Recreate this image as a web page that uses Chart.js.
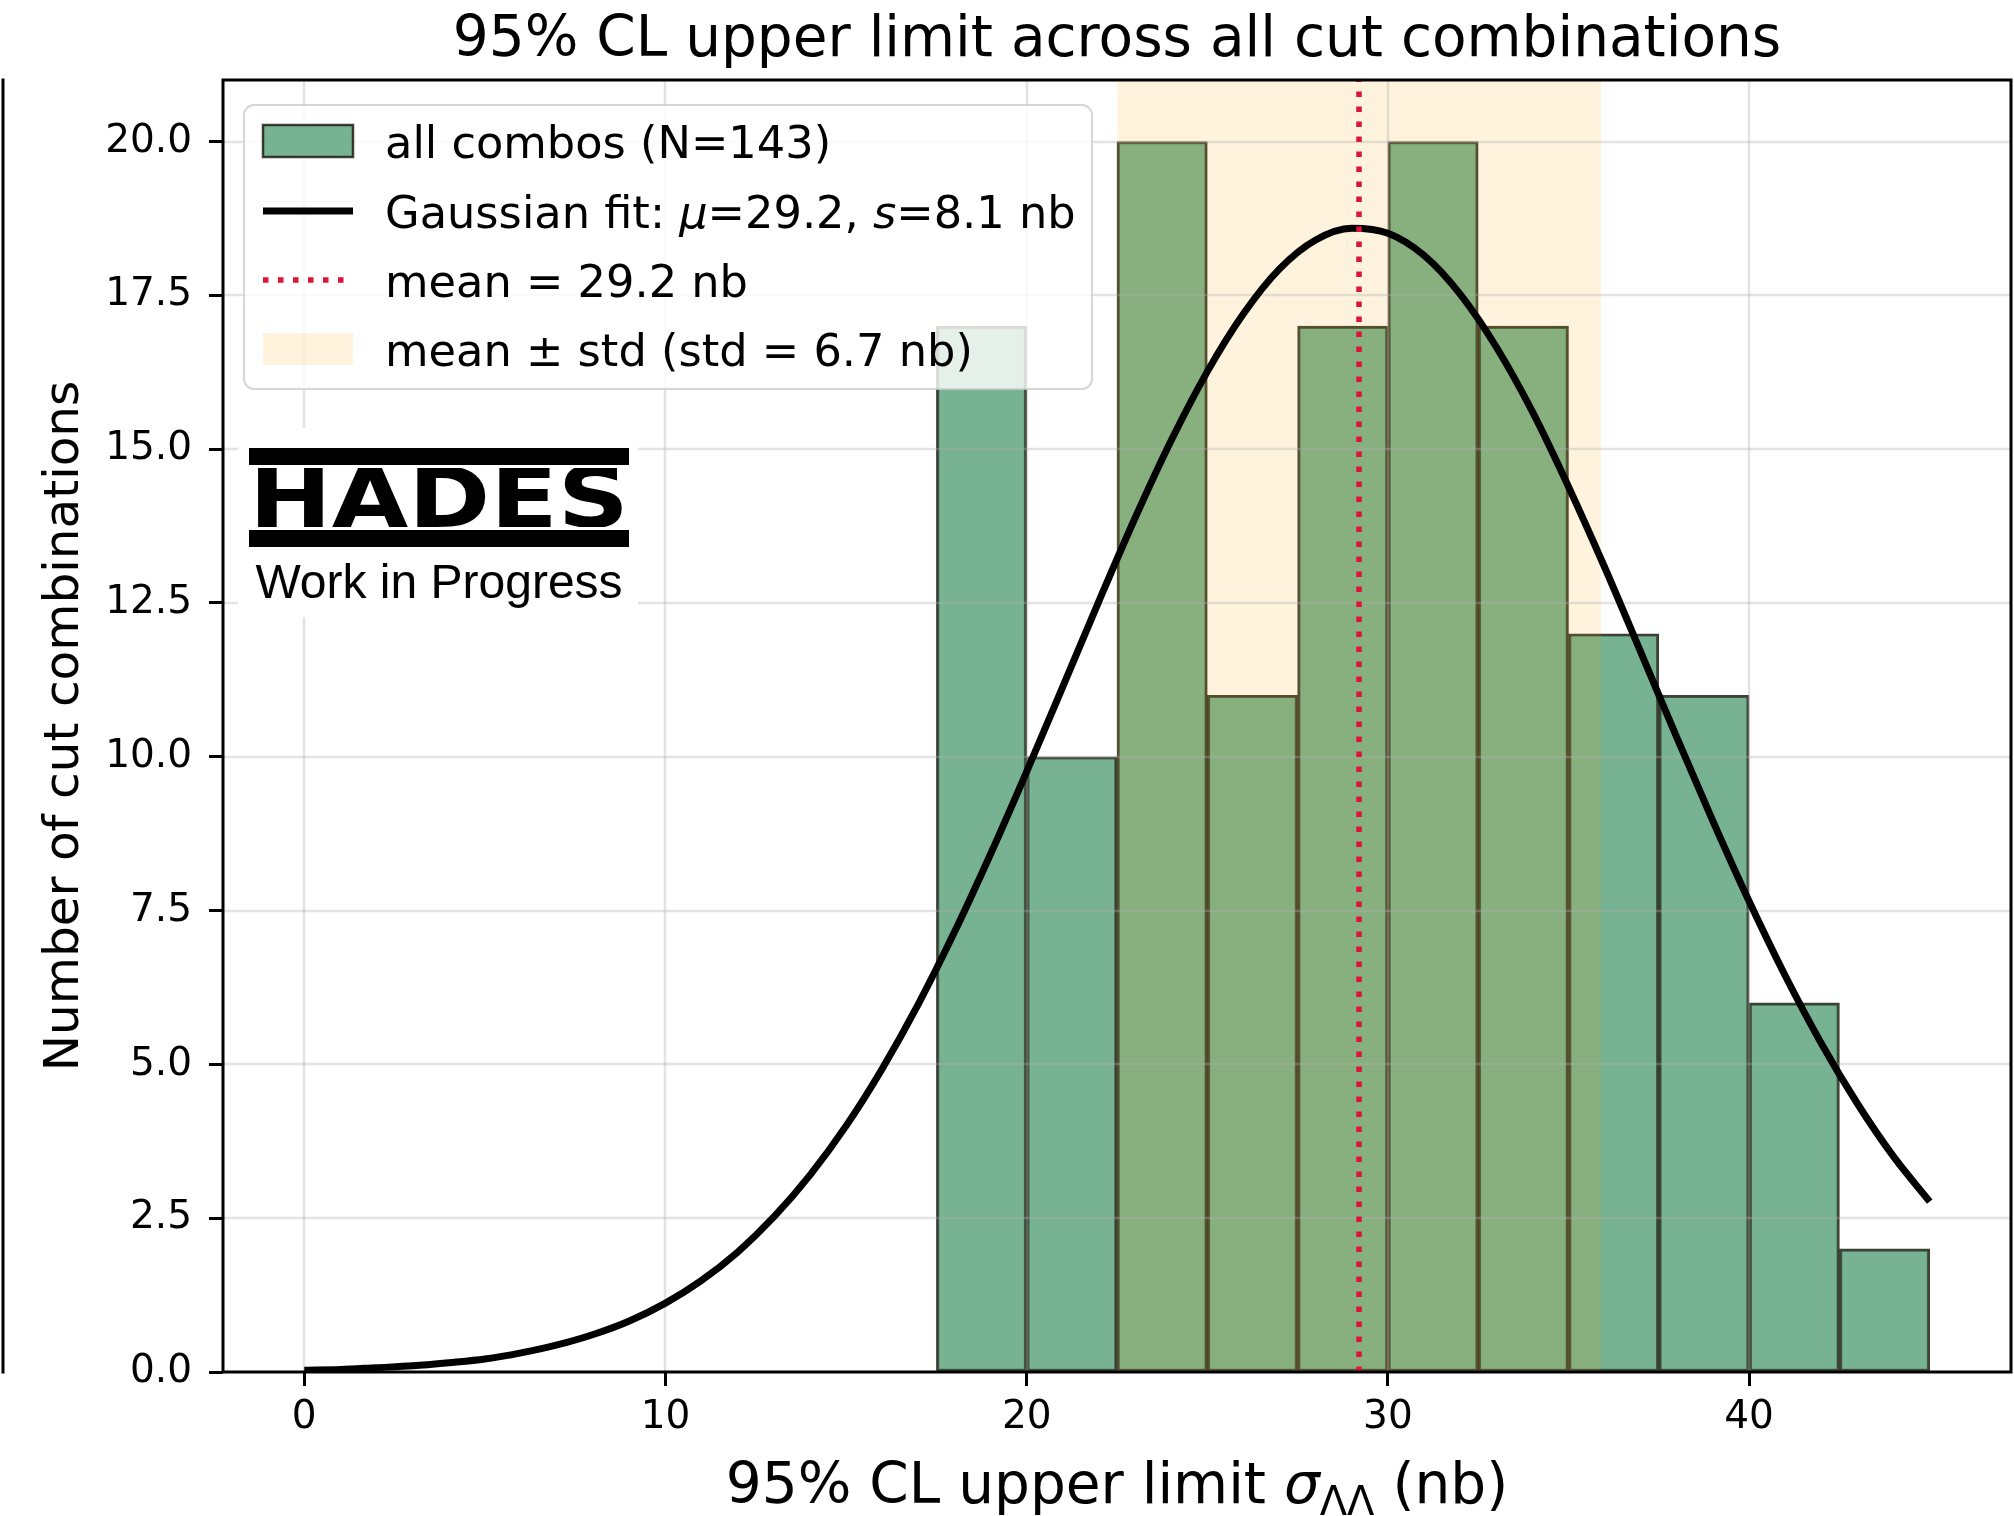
<!DOCTYPE html>
<html>
<head>
<meta charset="utf-8">
<script src="https://cdn.jsdelivr.net/npm/chart.js@4.4.1/dist/chart.umd.min.js"></script>
<style>
  html, body { margin: 0; padding: 0; background: #ffffff; }
  canvas { display: block; }
</style>
</head>
<body>
<canvas id="c" width="2014" height="1516" style="width:2014px;height:1516px"></canvas>
<script>
// ---- histogram of upper limits (bin edges in nb, counts per bin) ----
const binEdges  = [17.5, 20, 22.5, 25, 27.5, 30, 32.5, 35, 37.5, 40, 42.5, 45];
const binCounts = [17, 10, 20, 11, 17, 20, 17, 12, 11, 6, 2];

// ---- Gaussian fit curve, sampled every 1 nb ----
const fitX = [0, 1, 2, 3, 4, 5, 6, 7, 8, 9, 10, 11, 12, 13, 14, 15, 16, 17, 18, 19, 20, 21, 22,
              23, 24, 25, 26, 27, 28, 29, 30, 31, 32, 33, 34, 35, 36, 37, 38, 39, 40, 41, 42, 43, 44, 45];
const fitY = [0.03, 0.04, 0.07, 0.10, 0.15, 0.21, 0.31, 0.44, 0.61, 0.83, 1.12, 1.49, 1.95, 2.52,
              3.20, 4.00, 4.93, 5.98, 7.15, 8.42, 9.76, 11.14, 12.53, 13.88, 15.14, 16.26, 17.20,
              17.93, 18.40, 18.59, 18.51, 18.15, 17.52, 16.66, 15.61, 14.39, 13.08, 11.70, 10.31,
              8.95, 7.65, 6.44, 5.34, 4.36, 3.50, 2.77];

// ---- summary statistics ----
const meanValue = 29.2;
const stdValue  = 6.7;

// ---- axes ----
const xRange = [-2.25, 47.25];
const yRange = [0, 21];
const xTicks = [0, 10, 20, 30, 40];
const yTicks = [0, 2.5, 5, 7.5, 10, 12.5, 15, 17.5, 20];

// ---- texts ----
const titleText  = '95% CL upper limit across all cut combinations';
const yLabelText = 'Number of cut combinations';
const legendHist = 'all combos (N=143)';
const legendMean = 'mean = 29.2 nb';
const legendBand = 'mean \u00b1 std (std = 6.7 nb)';
const logoText   = 'HADES';
const wipText    = 'Work in Progress';

// ---- styles ----
const FONT = '"DejaVu Sans", "Noto Sans", sans-serif';
const barFill   = 'rgba(46,139,87,0.65)';
const barEdge   = 'rgba(30,30,20,0.85)';
const bandFill  = 'rgba(255,165,0,0.13)';
const meanColor = '#dc143c';
const gridColor = 'rgba(176,176,176,0.35)';

const histData = binCounts.map((c, i) => ({ x: (binEdges[i] + binEdges[i + 1]) / 2, y: c }));
const fitData  = fitX.map((x, i) => ({ x: x, y: fitY[i] }));
const meanData = [{ x: meanValue, y: yRange[0] }, { x: meanValue, y: yRange[1] }];

// band + grid drawn right after the bars, below the curves
const overlayPlugin = {
  id: 'overlay',
  beforeDraw(chart) {
    const ctx = chart.ctx;
    ctx.save();
    ctx.fillStyle = '#ffffff';
    ctx.fillRect(0, 0, chart.width, chart.height);
    ctx.restore();
  },
  afterDatasetDraw(chart, args) {
    if (args.index !== 0) return;
    const ctx = chart.ctx, a = chart.chartArea;
    const xs = chart.scales.x, ys = chart.scales.y;
    ctx.save();
    ctx.beginPath();
    ctx.rect(a.left, a.top, a.right - a.left, a.bottom - a.top);
    ctx.clip();
    // mean +- std band
    const x0 = xs.getPixelForValue(meanValue - stdValue);
    const x1 = xs.getPixelForValue(meanValue + stdValue);
    ctx.fillStyle = bandFill;
    ctx.fillRect(x0, a.top, x1 - x0, a.bottom - a.top);
    // grid
    ctx.strokeStyle = gridColor;
    ctx.lineWidth = 2.5;
    xTicks.forEach(v => {
      const p = Math.round(xs.getPixelForValue(v));
      ctx.beginPath(); ctx.moveTo(p, a.top); ctx.lineTo(p, a.bottom); ctx.stroke();
    });
    yTicks.forEach(v => {
      const p = Math.round(ys.getPixelForValue(v));
      ctx.beginPath(); ctx.moveTo(a.left, p); ctx.lineTo(a.right, p); ctx.stroke();
    });
    ctx.restore();
  },
  afterDraw(chart) {
    const ctx = chart.ctx, a = chart.chartArea;
    ctx.save();

    // frame
    ctx.strokeStyle = '#000';
    ctx.lineWidth = 3;
    ctx.strokeRect(a.left, a.top, a.right - a.left, a.bottom - a.top);

    // edge of the neighbouring panel
    ctx.beginPath();
    ctx.moveTo(3, a.top - 1.5); ctx.lineTo(3, a.bottom + 1.5);
    ctx.stroke();

    // title
    const cx = (a.left + a.right) / 2;
    ctx.fillStyle = '#000';
    ctx.textBaseline = 'alphabetic';
    ctx.textAlign = 'center';
    ctx.font = '56.5px ' + FONT;
    ctx.fillText(titleText, cx, 56);

    // x axis title with sigma_{Lambda Lambda}
    const xs = 56.5;
    const partA = '95% CL upper limit ';
    const partS = '\u03c3';
    const partSub = '\u039b\u039b';
    const partB = ' (nb)';
    ctx.textAlign = 'left';
    ctx.font = xs + 'px ' + FONT;
    const wA = ctx.measureText(partA).width;
    const wB = ctx.measureText(partB).width;
    ctx.font = 'italic ' + xs + 'px ' + FONT;
    const wS = ctx.measureText(partS).width;
    ctx.font = Math.round(xs * 0.7) + 'px ' + FONT;
    const wSub = ctx.measureText(partSub).width;
    const total = wA + wS + wSub + wB;
    let px = cx - total / 2;
    const by = 1503;
    ctx.font = xs + 'px ' + FONT;
    ctx.fillText(partA, px, by); px += wA;
    ctx.font = 'italic ' + xs + 'px ' + FONT;
    ctx.fillText(partS, px, by); px += wS;
    ctx.font = Math.round(xs * 0.7) + 'px ' + FONT;
    ctx.fillText(partSub, px, by + 0.22 * xs); px += wSub;
    ctx.font = xs + 'px ' + FONT;
    ctx.fillText(partB, px, by);

    // y axis title
    ctx.save();
    ctx.translate(78, (a.top + a.bottom) / 2);
    ctx.rotate(-Math.PI / 2);
    ctx.textAlign = 'center';
    ctx.font = '48.5px ' + FONT;
    ctx.fillText(yLabelText, 0, 0);
    ctx.restore();

    // legend
    const L = { x: 244, y: 105, w: 848, h: 284, r: 10 };
    ctx.beginPath();
    ctx.roundRect(L.x, L.y, L.w, L.h, L.r);
    ctx.fillStyle = 'rgba(255,255,255,0.8)';
    ctx.fill();
    ctx.strokeStyle = 'rgba(204,204,204,0.8)';
    ctx.lineWidth = 2;
    ctx.stroke();

    const rows = [141, 211, 280, 349];
    const hx0 = 263, hx1 = 353, tx = 385;
    // histogram patch
    ctx.fillStyle = barFill;
    ctx.fillRect(hx0, rows[0] - 16, hx1 - hx0, 32);
    ctx.strokeStyle = barEdge;
    ctx.lineWidth = 2.5;
    ctx.strokeRect(hx0, rows[0] - 16, hx1 - hx0, 32);
    // fit line
    ctx.strokeStyle = '#000';
    ctx.lineWidth = 7;
    ctx.lineCap = 'butt';
    ctx.beginPath(); ctx.moveTo(hx0, rows[1]); ctx.lineTo(hx1, rows[1]); ctx.stroke();
    // mean line
    ctx.strokeStyle = meanColor;
    ctx.lineWidth = 5.5;
    ctx.setLineDash([5.5, 9.5]);
    ctx.beginPath(); ctx.moveTo(hx0, rows[2]); ctx.lineTo(hx1, rows[2]); ctx.stroke();
    ctx.setLineDash([]);
    // band patch
    ctx.fillStyle = bandFill;
    ctx.fillRect(hx0, rows[3] - 16, hx1 - hx0, 32);

    ctx.fillStyle = '#000';
    ctx.textBaseline = 'middle';
    ctx.textAlign = 'left';
    const lf = 44.7;
    const ty = 5;
    ctx.font = lf + 'px ' + FONT;
    ctx.fillText(legendHist, tx, rows[0] + ty);
    // Gaussian fit entry with italic symbols
    const segs = [['Gaussian fit: ', false], ['\u03bc', true], ['=29.2, ', false], ['s', true], ['=8.1 nb', false]];
    let gx = tx;
    segs.forEach(([t, it]) => {
      ctx.font = (it ? 'italic ' : '') + lf + 'px ' + FONT;
      ctx.fillText(t, gx, rows[1] + ty);
      gx += ctx.measureText(t).width;
    });
    ctx.font = lf + 'px ' + FONT;
    ctx.fillText(legendMean, tx, rows[2] + ty);
    ctx.fillText(legendBand, tx, rows[3] + ty);

    // HADES logo block
    ctx.fillStyle = '#ffffff';
    ctx.fillRect(238, 428, 400, 189);
    ctx.fillStyle = '#000';
    ctx.fillRect(249, 448, 380, 17);
    ctx.fillRect(249, 530, 380, 17);
    ctx.save();
    ctx.font = 'bold 84px "DejaVu Sans", sans-serif';
    ctx.textBaseline = 'alphabetic';
    ctx.textAlign = 'left';
    const lw = ctx.measureText(logoText).width;
    ctx.translate(249, 527);
    ctx.scale(380 / lw, 1);
    ctx.fillText(logoText, 0, 0);
    ctx.restore();
    // thin white cut lines through the letters
    ctx.fillStyle = '#ffffff';
    ctx.fillRect(249, 465, 380, 3);
    ctx.fillRect(249, 527, 380, 3);
    ctx.fillStyle = '#000';
    ctx.font = '48px "Liberation Sans", Arial, sans-serif';
    ctx.textAlign = 'center';
    ctx.textBaseline = 'alphabetic';
    ctx.fillText(wipText, 439, 598);

    ctx.restore();
  }
};

new Chart(document.getElementById('c'), {
  data: {
    datasets: [
      {
        type: 'bar',
        label: legendHist,
        data: histData,
        backgroundColor: barFill,
        borderColor: barEdge,
        borderWidth: 2.5,
        borderSkipped: false,
        barPercentage: 1.0,
        categoryPercentage: 1.0,
        order: 3
      },
      {
        type: 'line',
        label: 'Gaussian fit',
        data: fitData,
        borderColor: '#000',
        borderWidth: 7,
        borderCapStyle: 'butt',
        cubicInterpolationMode: 'monotone',
        pointRadius: 0,
        fill: false,
        order: 2
      },
      {
        type: 'line',
        label: legendMean,
        data: meanData,
        borderColor: meanColor,
        borderWidth: 5.5,
        borderDash: [5.5, 9.5],
        borderCapStyle: 'butt',
        pointRadius: 0,
        fill: false,
        order: 1
      }
    ]
  },
  options: {
    responsive: false,
    devicePixelRatio: 1,
    animation: false,
    events: [],
    layout: { padding: { left: 0, top: 80, right: 3, bottom: 0 } },
    plugins: {
      legend: { display: false },
      title: { display: false },
      tooltip: { enabled: false }
    },
    scales: {
      x: {
        type: 'linear',
        min: xRange[0],
        max: xRange[1],
        offset: false,
        border: { display: false },
        grid: { offset: false, drawOnChartArea: false, drawTicks: true, tickLength: 14, tickColor: '#000', tickWidth: 3, color: 'rgba(0,0,0,0)' },
        ticks: {
          autoSkip: false, maxRotation: 0, padding: 8,
          color: '#000', font: { family: FONT, size: 39 },
          callback: v => String(v)
        },
        afterBuildTicks: s => { s.ticks = xTicks.map(v => ({ value: v })); },
        afterFit: s => { s.height = 144; }
      },
      y: {
        type: 'linear',
        min: yRange[0],
        max: yRange[1],
        border: { display: false },
        grid: { offset: false, drawOnChartArea: false, drawTicks: true, tickLength: 14, tickColor: '#000', tickWidth: 3, color: 'rgba(0,0,0,0)' },
        ticks: {
          autoSkip: false, padding: 17,
          color: '#000', font: { family: FONT, size: 39 },
          callback: v => v.toFixed(1)
        },
        afterBuildTicks: s => { s.ticks = yTicks.map(v => ({ value: v })); },
        afterFit: s => { s.width = 223; }
      }
    }
  },
  plugins: [overlayPlugin]
});
</script>
</body>
</html>
